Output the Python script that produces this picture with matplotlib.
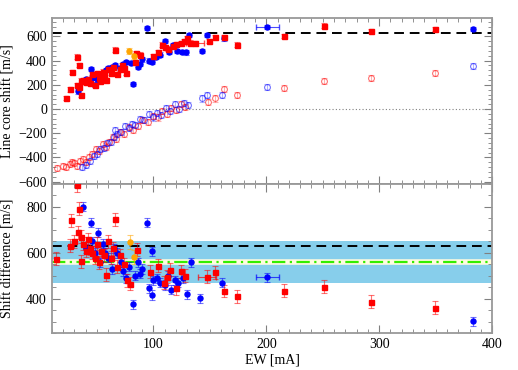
import numpy as np
import matplotlib
matplotlib.use('Agg')
import matplotlib.pyplot as plt
from matplotlib.ticker import MultipleLocator

######################################################################
## DATA

## upper panel, filled points (line core shift)
redEwUp = [23, 26, 27.5, 32, 34, 32, 34, 35.6, 35.6, 38, 40, 42, 44, 46, 48, 50, 52, 53,
           55, 56, 58, 60, 62, 64, 66, 68, 70, 72, 74, 76, 85, 84, 88, 100, 104, 107.6,
           110, 113, 117, 120, 124, 127, 130, 132, 137, 149, 154.6, 162.6, 174, 216,
           250.7, 293, 349]
redShiftUp = [92, 162, 308, 433, 362, 200, 180, 114, 235, 240, 220, 250, 215, 290, 200,
              300, 260, 230, 310, 280, 240, 330, 300, 350, 492, 290, 330, 360, 340, 300,
              465, 390, 450, 440, 470, 533, 510, 500, 520, 540, 548, 560, 584, 550, 543,
              560, 597, 597, 533, 606, 690, 646, 660]
blueEwUp = [33, 37, 40, 44.5, 46, 48, 50, 52, 54, 56, 58, 60, 63, 66, 70, 73, 76, 80, 82,
            86, 88, 90, 94, 96, 98.4, 102, 106, 110, 114, 117.6, 121, 125, 129, 131.7,
            143, 147.5, 162.6, 201, 383]
blueShiftUp = [146, 230, 250, 330, 260, 200, 245, 290, 270, 300, 320, 340, 350, 360, 340,
               370, 390, 380, 208, 350, 370, 410, 668, 400, 390, 430, 450, 560, 470, 530,
               480, 470, 468, 611, 478, 611, 584, 676, 660]
orangeEwUp = [78, 82.4]
orangeShiftUp = [478, 438]

## upper panel, open points
redEwLo = [15, 20, 23, 26, 27.5, 30, 32, 35, 38, 40, 43, 46, 49, 52, 55, 58, 61, 64, 67,
           70, 74, 78, 82, 86, 90, 95, 100, 104, 108, 112, 116, 120, 124, 128, 148,
           154.6, 162.6, 174, 216, 250.7, 293, 349]
redShiftLo = [-490, -470, -480, -455, -440, -450, -470, -430, -410, -440, -400, -370,
              -330, -350, -290, -310, -270, -230, -250, -190, -210, -150, -170, -140,
              -90, -110, -60, -70, -20, -40, 10, -10, 40, 20, 58, 87, 164, 114, 173, 235,
              260, 298]
blueEwLo = [37, 40, 44, 47, 50, 53, 56, 59, 62, 65, 66, 68, 71, 75, 78, 81, 84, 88, 92,
            96, 100, 103, 107, 111, 115, 119, 123, 127, 131, 142.7, 147.5, 160.4, 201, 383]
blueShiftLo = [-480, -460, -430, -390, -370, -330, -320, -280, -270, -230, -170, -210,
               -190, -140, -160, -120, -130, -80, -90, -40, -70, -30, -50, 10, -20, 40,
               0, 50, 30, 87, 113, 113, 184, 357]

## lower panel, shift difference
redEwD = [14, 26, 27, 32, 34, 35.6, 30, 33, 36, 38, 40, 42, 44, 46, 48, 50, 52, 54, 56,
          58, 60, 62, 64, 66, 68, 70, 74, 77, 79, 85.6, 97, 104.5, 109, 112, 115, 119.6,
          124, 128.4, 147.7, 154.6, 162.6, 174, 216, 250.7, 293, 349]
redDiff = [575, 632, 742, 895, 793, 563, 650, 690, 670, 640, 610, 660, 620, 600, 580, 640,
           560, 610, 590, 505, 650, 580, 620, 746, 540, 590, 550, 480, 465, 614, 519, 544,
           471, 497, 527, 446, 520, 500, 497, 515, 434, 412, 436, 453, 387, 361]
blueEwD = [37.5, 40, 44.5, 46, 48, 51, 53, 55, 57, 60, 63, 65, 68, 71, 73, 76, 78, 81.5,
           84, 86, 88, 90, 94, 96, 98.4, 98.4, 100, 103, 106, 110, 113, 116, 119, 122,
           126, 129.6, 133, 141.6, 160.4, 201, 383]
blueDiff = [802, 620, 732, 650, 600, 688, 560, 640, 600, 580, 530, 620, 600, 560, 520,
            490, 540, 377, 500, 560, 510, 530, 732, 446, 607, 417, 480, 490, 470, 460,
            500, 440, 480, 470, 490, 420, 560, 402, 471, 493, 302]
orangeEwD = [78.9, 82.4]
orangeDiff = [646, 582]

refShift = 632        # black dashed
meanDiff = 562        # green dash-dot
bandLow, bandHigh = 470, 650

######################################################################
## PLOT
plt.rcParams['font.family'] = ['Liberation Serif', 'DejaVu Serif']
plt.rcParams['font.size'] = 10

fig = plt.figure(figsize=(5.18, 3.70), dpi=100)
axTop = fig.add_axes([0.100, 0.5027, 0.850, 0.4478])
axBot = fig.add_axes([0.100, 0.0992, 0.850, 0.4035])

RED = '#ff0000'
BLUE = '#0000ff'
ORANGE = '#ffa500'

def drawPoints(ax, xs, ys, color, marker, err, filled=True, alpha=1.0):
    ax.errorbar(xs, ys, yerr=err, fmt='none', ecolor=color, elinewidth=0.8,
                capsize=2, capthick=0.8, alpha=0.55 * alpha, zorder=3)
    if filled:
        ax.plot(xs, ys, linestyle='none', marker=marker, ms=3.6, color=color,
                mec=color, alpha=alpha, zorder=4)
    else:
        ax.plot(xs, ys, linestyle='none', marker=marker, ms=4.2, mfc='none',
                mec=color, mew=0.8, alpha=alpha, zorder=4)

## top panel
axTop.axhline(refShift, color='black', ls=(0, (5, 3)), lw=1.4, zorder=2)
axTop.axhline(0, color='gray', ls=(0, (1, 2)), lw=0.8, zorder=1)
drawPoints(axTop, redEwLo, redShiftLo, RED, 'o', 25, filled=False, alpha=0.55)
drawPoints(axTop, blueEwLo, blueShiftLo, BLUE, 'o', 25, filled=False, alpha=0.55)
drawPoints(axTop, blueEwUp, blueShiftUp, BLUE, 'o', 18)
drawPoints(axTop, redEwUp, redShiftUp, RED, 's', 18)
drawPoints(axTop, orangeEwUp, orangeShiftUp, ORANGE, 'o', 25)
axTop.errorbar([201], [676], xerr=[10], fmt='none',
               ecolor=BLUE, elinewidth=0.8, capsize=2, alpha=0.7)
axTop.errorbar([137], [543], xerr=[8], fmt='none',
               ecolor=RED, elinewidth=0.8, capsize=2, alpha=0.7)

## bottom panel
axBot.axhspan(bandLow, bandHigh, color='#87ceeb', lw=0, zorder=0)
axBot.axhline(meanDiff, color='#fffbe0', lw=4, zorder=1)
axBot.axhline(meanDiff, color='#33ee00', ls=(0, (6, 2, 1, 2)), lw=1.6, zorder=2)
axBot.axhline(refShift, color='black', ls=(0, (5, 3)), lw=1.4, zorder=2)
drawPoints(axBot, blueEwD, blueDiff, BLUE, 'o', 20)
drawPoints(axBot, redEwD, redDiff, RED, 's', 28)
drawPoints(axBot, orangeEwD, orangeDiff, ORANGE, 'o', 30)
axBot.errorbar([201], [493], xerr=[10], fmt='none',
               ecolor=BLUE, elinewidth=0.8, capsize=2, alpha=0.7)
axBot.errorbar([147.7], [497], xerr=[8], fmt='none',
               ecolor=RED, elinewidth=0.8, capsize=2, alpha=0.7)

axTop.set_ylim(-620, 750)
axBot.set_ylim(250, 900)
for ax in (axTop, axBot):
    ax.set_xlim(10, 400)
    ax.xaxis.set_major_locator(MultipleLocator(100))
    ax.xaxis.set_minor_locator(MultipleLocator(10))
    ax.tick_params(which='both', direction='in', top=True, right=True, color='gray')
    ax.tick_params(which='major', length=6)
    ax.tick_params(which='minor', length=3)
    for sp in ax.spines.values():
        sp.set_color('#999999')
        sp.set_linewidth(1.3)

axTop.yaxis.set_major_locator(MultipleLocator(200))
axTop.yaxis.set_minor_locator(MultipleLocator(40))
axTop.tick_params(labelbottom=False)
axBot.yaxis.set_major_locator(MultipleLocator(200))
axBot.yaxis.set_minor_locator(MultipleLocator(50))

axTop.set_ylabel('Line core shift [m/s]')
axBot.set_ylabel('Shift difference [m/s]')
axBot.set_xlabel('EW [mA]', labelpad=2)
axTop.yaxis.set_label_coords(-0.085, 0.5)
axBot.yaxis.set_label_coords(-0.085, 0.5)

fig.savefig('out.png', dpi=100)
